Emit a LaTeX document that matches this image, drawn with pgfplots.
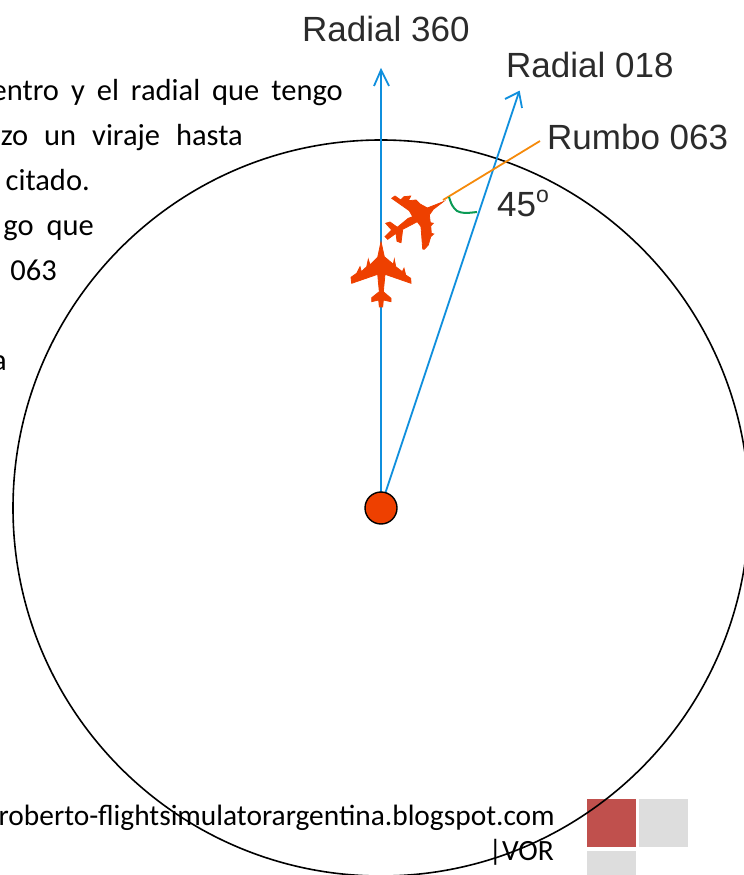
\documentclass[border=0pt]{standalone}
\usepackage{pgfplots}
\pgfplotsset{compat=1.18}
\usepackage{fontspec}
\setmainfont{Carlito}
\newfontfamily\arialf{Liberation Sans}
\definecolor{blueline}{HTML}{0F8FDD}
\definecolor{orangeline}{HTML}{F58A0B}
\definecolor{greenarc}{HTML}{0A9A55}
\definecolor{planered}{HTML}{EE4000}
\definecolor{sqred}{HTML}{C0504D}
\definecolor{sqgray}{HTML}{DDDDDD}
\definecolor{labgray}{HTML}{2B2B2B}
\newcommand{\body}{\fontsize{30.5bp}{34bp}\selectfont}
\newcommand{\foot}{\fontsize{29.4bp}{34bp}\selectfont}
\newcommand{\lab}{\color{labgray}\fontsize{35bp}{40bp}\selectfont\arialf}
\begin{document}
\begin{tikzpicture}[x=1bp,y=1bp]
\clip (0,0) rectangle (744,875);
\begin{axis}[
  at={(0,0)},anchor=south west,
  scale only axis,width=744bp,height=875bp,
  xmin=0,xmax=744,ymin=0,ymax=875,y dir=reverse,
  hide axis,clip=true]
% logo squares
\addplot[draw=none,fill=sqred] coordinates {(587,799)(636,799)(636,847)(587,847)} --cycle;
\addplot[draw=none,fill=sqgray] coordinates {(639,799)(688,799)(688,847)(639,847)} --cycle;
\addplot[draw=none,fill=sqgray] coordinates {(587,851)(636,851)(636,880)(587,880)} --cycle;
% body text
\node[anchor=base east,inner sep=0] at (axis cs:343,101) {\body entro\hspace{12bp}y\hspace{12bp}el\hspace{12bp}radial\hspace{12bp}que\hspace{12bp}tengo};
\node[anchor=base east,inner sep=0] at (axis cs:243,146) {\body zo\hspace{16bp}un\hspace{16bp}viraje\hspace{16bp}hasta};
\node[anchor=base east,inner sep=0] at (axis cs:90,191) {\body citado.};
\node[anchor=base east,inner sep=0] at (axis cs:94,236) {\body go\hspace{13bp}que};
\node[anchor=base east,inner sep=0] at (axis cs:57,281) {\body 063};
\node[anchor=base east,inner sep=0] at (axis cs:7,371) {\body a};
\node[anchor=base east,inner sep=0] at (axis cs:555,825) {\foot roberto-flightsimulatorargentina.blogspot.com};
\node[anchor=base east,inner sep=0] at (axis cs:554,860) {\foot |VOR};
% circle
\draw[black,line width=1.6bp] (axis cs:381,508) circle [radius=368];
% radials
\addplot[blueline,line width=1.8bp] coordinates {(381,508)(381,71)};
\addplot[blueline,line width=1.8bp] coordinates {(374,86)(381,70)(389,86)};
\addplot[blueline,line width=1.8bp] coordinates {(384,497)(519,92)};
\addplot[blueline,line width=1.8bp] coordinates {(505,99)(519,92)(522,108)};
% heading
\addplot[orangeline,line width=1.8bp] coordinates {(443,200)(540,141)};
% angle arc
\addplot[greenarc,line width=2bp,smooth] coordinates {(449,197)(452,205)(457,211)(465,213)(477,212)};
% aircraft (heading 063)
\addplot[draw=planered,line width=0.8bp,fill=planered] coordinates {
(443.3,201.7)(433.3,209.3)(429.3,215)(430.3,222.7)(433.3,223.3)(430.7,226)(431.3,233.3)(433.7,234)(430.7,236.7)(428.3,245)(424.3,249.3)(422.7,249)(421,226.7)(417.3,221.7)(402.7,229.3)(401,242.7)(397,241.3)(396,233.3)(387.7,239.3)(385,236.7)(391.7,230)(385.7,223.3)(390,222)(397.3,227.3)(408.3,218.3)(412.7,216.7)(409.3,210.7)(391.7,198.3)(395,196)(400.7,200)(404,196.7)(410.7,196)(408.3,200.7)(416,200)(420,204)(427.3,208)(435,205)} --cycle;
% aircraft (heading 360)
\addplot[draw=planered,line width=0.8bp,fill=planered] coordinates {
(381,241.7)(384.3,256.7)(393.3,264.3)(394.3,259.3)(395.7,266.7)(402.3,271.7)(404,268.3)(405.7,275)(410.7,278.3)(411,283.3)(385,274.3)(383.3,291.7)(391,298.3)(391,301.7)(383.3,300)(382.7,307)(379.3,307)(378.7,300)(371.7,301.7)(371.7,297.7)(379.3,291.7)(377.7,274.3)(351.7,283.3)(351,277.3)(356.7,273.3)(360,266.7)(361.3,271.7)(366.7,266.7)(368.3,259.3)(370,265)(377.7,257.3)} --cycle;
% VOR station
\addplot[only marks,mark=*,mark size=16bp,mark options={fill=planered,draw=black,line width=1.4bp}] coordinates {(381,508)};
% labels
\node[anchor=base west,inner sep=0] at (axis cs:302,42) {\lab Radial 360};
\node[anchor=base west,inner sep=0] at (axis cs:506,78) {\lab Radial 018};
\node[anchor=base west,inner sep=0] at (axis cs:547,150) {\lab Rumbo 063};
\node[anchor=base west,inner sep=0] at (axis cs:497,217) {\lab 45\raisebox{14bp}{\fontsize{23bp}{23bp}\selectfont o}};
\end{axis}
\end{tikzpicture}
\end{document}
